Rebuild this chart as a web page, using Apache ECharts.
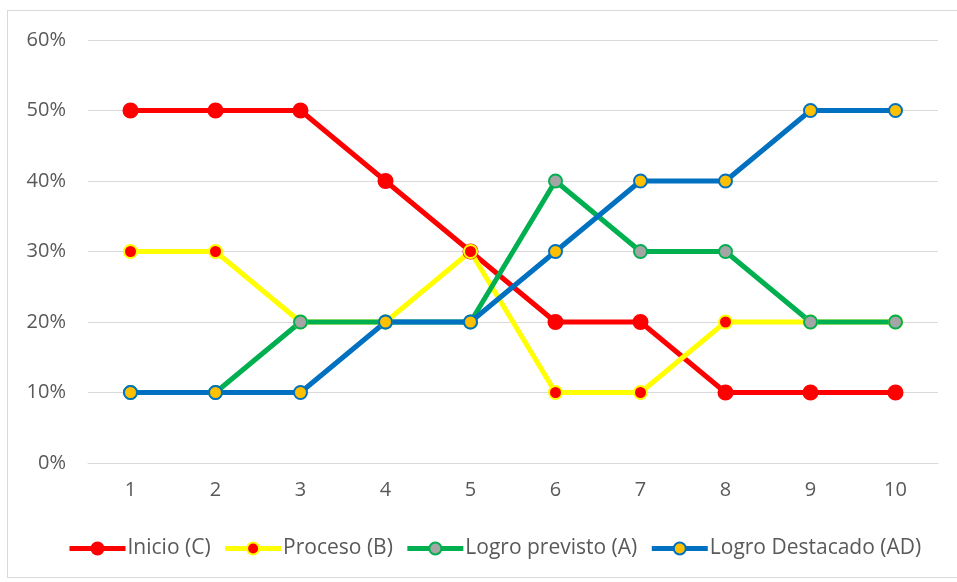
<!DOCTYPE html>
<html>
<head>
<meta charset="utf-8">
<script src="https://cdn.jsdelivr.net/npm/echarts@6/dist/echarts.min.js"></script>
<style>
  html, body { margin: 0; padding: 0; background: #fff; }
  #frame { position: absolute; left: 7px; top: 10px; width: 960px; height: 566px; border: 1px solid #d9d9d9; }
  #chart { position: absolute; left: 0; top: 0; width: 957px; height: 582px; }
</style>
</head>
<body>
<div id="frame"></div>
<div id="chart"></div>
<script>
var categories = ['1', '2', '3', '4', '5', '6', '7', '8', '9', '10']
var inicio = [50, 50, 50, 40, 30, 20, 20, 10, 10, 10]
var proceso = [30, 30, 20, 20, 30, 10, 10, 20, 20, 20]
var logroPrevisto = [10, 10, 20, 20, 20, 40, 30, 30, 20, 20]
var logroDestacado = [10, 10, 10, 20, 20, 30, 40, 40, 50, 50]

var font = 'Open Sans, Liberation Sans, sans-serif'

function line (name, data, lineColor, fill, border, size) {
  return {
    name: name,
    type: 'line',
    data: data,
    symbol: 'circle',
    symbolSize: size,
    showAllSymbol: true,
    lineStyle: { color: lineColor, width: 5 },
    itemStyle: { color: fill, borderColor: border, borderWidth: 2 },
    emphasis: { disabled: true },
    animation: false
  }
}

var chart = echarts.init(document.getElementById('chart'))
chart.setOption({
  grid: { left: 88, right: 19, top: 40, bottom: 119 },
  xAxis: {
    type: 'category',
    data: categories,
    boundaryGap: true,
    axisTick: { show: false },
    axisLine: { lineStyle: { color: '#d9d9d9', width: 1 } },
    axisLabel: { color: '#595959', fontSize: 20, fontFamily: font, margin: 17 }
  },
  yAxis: {
    type: 'value',
    min: 0,
    max: 60,
    interval: 10,
    axisLine: { show: false },
    axisTick: { show: false },
    axisLabel: { color: '#595959', fontSize: 20, fontFamily: font, margin: 22, formatter: '{value}%' },
    splitLine: { lineStyle: { color: '#d9d9d9', width: 1 } }
  },
  legend: {
    bottom: 18,
    left: 62,
    itemWidth: 56,
    itemHeight: 15,
    itemGap: 12,
    lineStyle: { width: 5 },
    textStyle: { color: '#595959', fontSize: 21, fontFamily: font, padding: [0, 0, 0, -3] },
    data: ['Inicio (C)', 'Proceso (B)', 'Logro previsto (A)', 'Logro Destacado (AD)']
  },
  series: [
    line('Inicio (C)', inicio, '#ff0000', '#ff0000', '#ff0000', 14),
    line('Proceso (B)', proceso, '#ffff00', '#ff0000', '#ffff00', 13),
    line('Logro previsto (A)', logroPrevisto, '#00b050', '#a5a5a5', '#00b050', 13),
    line('Logro Destacado (AD)', logroDestacado, '#0070c0', '#ffc000', '#0070c0', 13)
  ]
})
</script>
</body>
</html>
